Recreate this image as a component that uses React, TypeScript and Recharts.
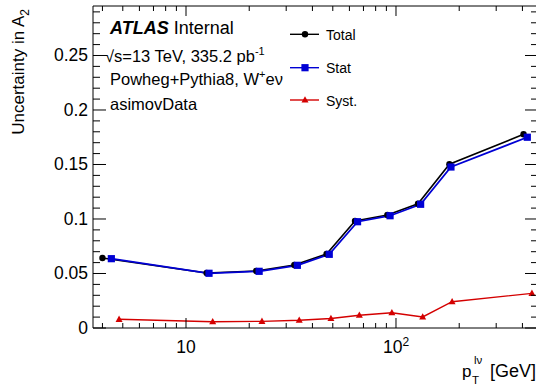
import { LineChart, Line, XAxis, YAxis, ReferenceLine } from 'recharts';

// pT bin positions (GeV) and uncertainties
const totalPt = [4.0, 12.54, 21.6, 32.8, 46.7, 63.8, 91, 127.3, 179.6, 405];
const totalUnc = [0.0642, 0.0505, 0.0523, 0.0578, 0.0679, 0.0982, 0.1037, 0.114, 0.1502, 0.1777];

const statPt = [4.41, 12.87, 22.3, 33.9, 48.1, 65.6, 93.7, 131, 182.7, 422];
const statUnc = [0.0636, 0.0502, 0.052, 0.0575, 0.0676, 0.0975, 0.103, 0.1135, 0.1477, 0.175];

const systPt = [4.8, 13.4, 23.0, 34.6, 49, 66.9, 95.6, 134, 185, 444];
const systUnc = [0.008, 0.0058, 0.0061, 0.0071, 0.0087, 0.0117, 0.014, 0.0101, 0.0241, 0.0318];

const yMajorTicks = [0, 0.05, 0.1, 0.15, 0.2, 0.25];
const yMajorLabels = ['0', '0.05', '0.1', '0.15', '0.2', '0.25'];
const yMinorTicks = [
  0.01, 0.02, 0.03, 0.04, 0.06, 0.07, 0.08, 0.09, 0.11, 0.12, 0.13, 0.14,
  0.16, 0.17, 0.18, 0.19, 0.21, 0.22, 0.23, 0.24, 0.26, 0.27, 0.28, 0.29,
];

const xMajorTicks = [10, 100];
const xMajorBase = ['10', '10'];
const xMajorExp = ['', '2'];
const xMinorTicks = [4, 5, 6, 7, 8, 9, 20, 30, 40, 50, 60, 70, 80, 90, 200, 300, 400];

const FONT = '"Liberation Sans", Arial, Helvetica, sans-serif';
const CHART_W = 545;
const CHART_H = 389;
const PL = 93;
const PR = 538;
const PT = 6;
const PB = 328;
const X_MIN = 3.6066;
const X_MAX = 474.5;
const Y_MAX = 0.2954;

const BLUE = '#0000d4';
const RED = '#d40000';

const toPoints = (xs: number[], ys: number[]) => xs.map((x, i) => ({ x, y: ys[i] }));

const totalData = toPoints(totalPt, totalUnc);
const statData = toPoints(statPt, statUnc);
const systData = toPoints(systPt, systUnc);

const yTicks = [...yMajorTicks, ...yMinorTicks].sort((a, b) => a - b);
const xTicks = [...xMajorTicks, ...xMinorTicks].sort((a, b) => a - b);

const YTick = (props: any) => {
  const { y, payload } = props;
  const mi = yMajorTicks.findIndex((t) => Math.abs(t - payload.value) < 1e-9);
  const len = mi >= 0 ? 13 : 7;
  return (
    <g>
      <line x1={PL} x2={PL + len} y1={y} y2={y} stroke="#000" />
      <line x1={PR - len} x2={PR} y1={y} y2={y} stroke="#000" />
      {mi >= 0 && (
        <text x={88} y={y + 6} textAnchor="end" fontSize={17.5} fontFamily={FONT} fill="#000">
          {yMajorLabels[mi]}
        </text>
      )}
    </g>
  );
};

const XTick = (props: any) => {
  const { x, payload } = props;
  const mi = xMajorTicks.indexOf(payload.value);
  const len = mi >= 0 ? 10 : 5;
  return (
    <g>
      <line x1={x} x2={x} y1={PB} y2={PB - len} stroke="#000" />
      <line x1={x} x2={x} y1={PT} y2={PT + len} stroke="#000" />
      {mi >= 0 && (
        <text x={x} y={353} textAnchor="middle" fontSize={17.5} fontFamily={FONT} fill="#000">
          {xMajorBase[mi]}
          {xMajorExp[mi] && (
            <tspan dy={-7} fontSize={12}>
              {xMajorExp[mi]}
            </tspan>
          )}
        </text>
      )}
    </g>
  );
};

const circleDot = (props: any) => (
  <circle key={`c${props.index}`} cx={props.cx} cy={props.cy} r={3.2} fill="#000" />
);
const squareDot = (props: any) => (
  <rect key={`s${props.index}`} x={props.cx - 3.6} y={props.cy - 3.6} width={7.2} height={7.2} fill={BLUE} />
);
const triangleDot = (props: any) => (
  <path
    key={`t${props.index}`}
    d={`M${props.cx},${props.cy - 3.8} L${props.cx + 3.5},${props.cy + 2.6} L${props.cx - 3.5},${props.cy + 2.6} Z`}
    fill={RED}
  />
);

const legendItems = [
  { name: 'Total', color: '#000', y: 34.3, marker: 'circle' },
  { name: 'Stat', color: BLUE, y: 67.7, marker: 'square' },
  { name: 'Syst.', color: RED, y: 100, marker: 'triangle' },
];

export default function App() {
  return (
    <div
      style={{
        position: 'absolute',
        left: 0,
        top: 0,
        width: 536,
        height: 389,
        overflow: 'hidden',
        background: '#fff',
      }}
    >
      <LineChart width={CHART_W} height={CHART_H} margin={{ top: PT, right: CHART_W - PR, bottom: 0, left: 0 }}>
        <XAxis
          dataKey="x"
          type="number"
          scale="log"
          domain={[X_MIN, X_MAX]}
          allowDataOverflow
          ticks={xTicks}
          interval={0}
          tick={XTick}
          tickLine={false}
          axisLine={{ stroke: '#000' }}
          height={CHART_H - PB}
        />
        <YAxis
          type="number"
          domain={[0, Y_MAX]}
          allowDataOverflow
          ticks={yTicks}
          interval={0}
          tick={YTick}
          tickLine={false}
          axisLine={{ stroke: '#000' }}
          width={PL}
        />
        <ReferenceLine y={Y_MAX} stroke="#000" />
        <ReferenceLine x={X_MAX} stroke="#000" />
        <Line
          data={totalData}
          dataKey="y"
          name="Total"
          stroke="#000"
          strokeWidth={1.6}
          dot={circleDot}
          activeDot={false}
          isAnimationActive={false}
        />
        <Line
          data={statData}
          dataKey="y"
          name="Stat"
          stroke={BLUE}
          strokeWidth={1.8}
          dot={squareDot}
          activeDot={false}
          isAnimationActive={false}
        />
        <Line
          data={systData}
          dataKey="y"
          name="Syst."
          stroke={RED}
          strokeWidth={1.4}
          dot={triangleDot}
          activeDot={false}
          isAnimationActive={false}
        />
      </LineChart>

      <svg
        width={536}
        height={389}
        style={{ position: 'absolute', left: 0, top: 0, pointerEvents: 'none' }}
        fontFamily={FONT}
      >
        <text x={110} y={34} fontSize={18} fill="#000">
          <tspan fontWeight="bold" fontStyle="italic">ATLAS</tspan>
          <tspan> Internal</tspan>
        </text>
        <text x={105} y={62.3} fontSize={16.5} fill="#000">
          √s=13 TeV, 335.2 pb
          <tspan dy={-7} fontSize={11}>-1</tspan>
        </text>
        <text x={110} y={85} fontSize={16.5} fill="#000">
          Powheg+Pythia8, W
          <tspan dy={-7} fontSize={11}>+</tspan>
          <tspan dy={7}>eν</tspan>
        </text>
        <text x={110} y={110} fontSize={16.5} fill="#000">
          asimovData
        </text>

        {legendItems.map((it) => (
          <g key={it.name}>
            <line x1={290} x2={319} y1={it.y} y2={it.y} stroke={it.color} strokeWidth={1.4} />
            {it.marker === 'circle' && <circle cx={305} cy={it.y} r={3.2} fill={it.color} />}
            {it.marker === 'square' && (
              <rect x={305 - 3.6} y={it.y - 3.6} width={7.2} height={7.2} fill={it.color} />
            )}
            {it.marker === 'triangle' && (
              <path d={`M305,${it.y - 3.8} L308.5,${it.y + 2.6} L301.5,${it.y + 2.6} Z`} fill={it.color} />
            )}
            <text x={326} y={it.y + 5.6} fontSize={14} fill="#000">
              {it.name}
            </text>
          </g>
        ))}

        <text transform="translate(23.5,9) rotate(-90)" textAnchor="end" fontSize={17} fill="#000">
          Uncertainty in A
          <tspan dy={5} fontSize={12}>2</tspan>
        </text>

        <text x={462} y={376.5} fontSize={17} fill="#000">
          p
        </text>
        <text x={472} y={384} fontSize={11.5} fill="#000">
          T
        </text>
        <text x={474} y={364} fontSize={11.5} fill="#000">
          lν
        </text>
        <text x={536} y={376.5} fontSize={18} textAnchor="end" fill="#000">
          [GeV]
        </text>
      </svg>
    </div>
  );
}
